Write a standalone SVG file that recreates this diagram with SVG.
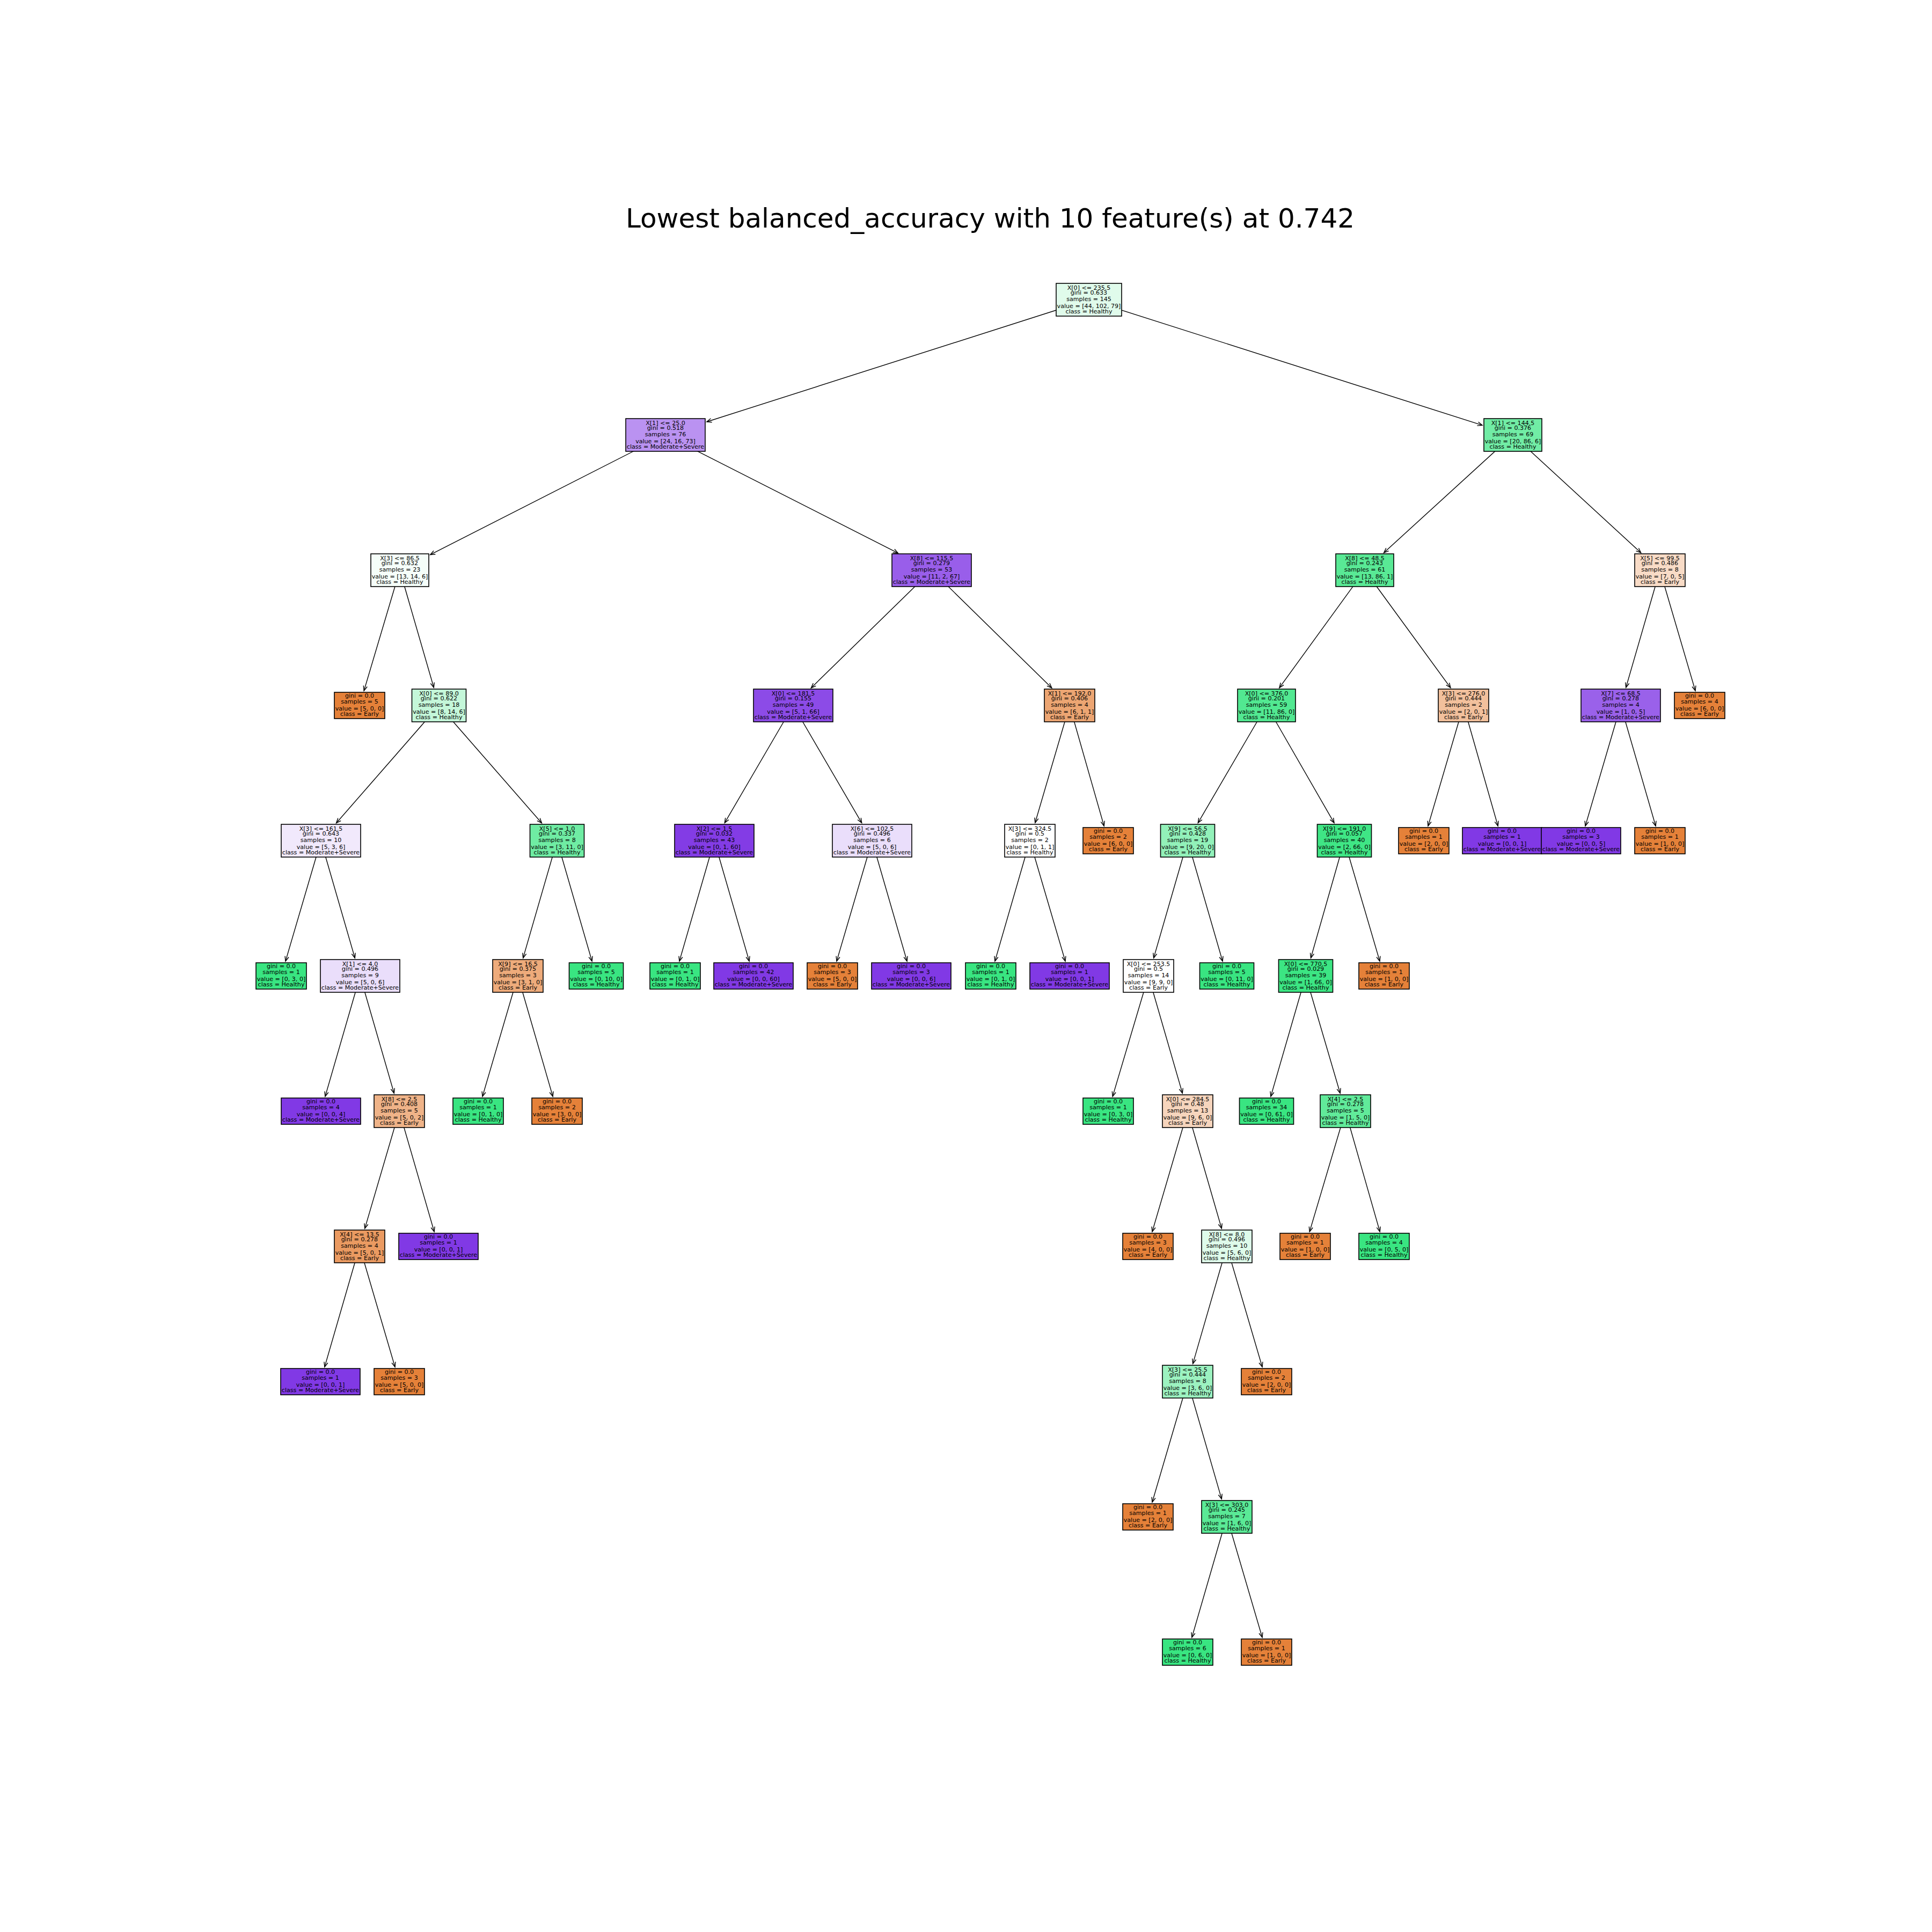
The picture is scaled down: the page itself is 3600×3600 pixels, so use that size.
<svg xmlns="http://www.w3.org/2000/svg" width="3600" height="3600" viewBox="0 0 3600 3600">
<style>
  .bg { fill: #ffffff; }
  .title { font-family: "DejaVu Sans", "Liberation Sans", sans-serif; font-size: 50px; fill: #000; text-anchor: middle; }
  .box { stroke: #000; stroke-width: 1.6; }
  .early { fill: #e58139; }
  .healthy { fill: #39e581; }
  .ms { fill: #8139e5; }
  .t { font-family: "DejaVu Sans", "Liberation Sans", sans-serif; font-size: 11.1px; fill: #000; text-anchor: middle; }
  .edge { stroke: #000; stroke-width: 1.4; fill: none; marker-end: url(#ah); }
</style>
<defs>
  <marker id="ah" markerUnits="userSpaceOnUse" markerWidth="12" markerHeight="10" viewBox="-10 -5 12 10" refX="0" refY="0" orient="auto">
    <path d="M-9,-3.6 L0,0 L-9,3.6" fill="none" stroke="#000" stroke-width="1.4"/>
  </marker>
</defs>
<rect class="bg" x="0" y="0" width="3600" height="3600"/>
<text class="title" x="1845" y="424">Lowest balanced_accuracy with 10 feature(s) at 0.742</text>

<g id="connectors">
  <line class="edge" x1="2029" y1="558.5" x2="1316.9" y2="786.0"/>
  <line class="edge" x1="2029" y1="558.5" x2="2762.1" y2="792.4"/>
  <line class="edge" x1="1240" y1="810.5" x2="801.7" y2="1033.6"/>
  <line class="edge" x1="1240" y1="810.5" x2="1673.3" y2="1030.6"/>
  <line class="edge" x1="745" y1="1062.5" x2="678.2" y2="1287.1"/>
  <line class="edge" x1="745" y1="1062.5" x2="808.3" y2="1281.1"/>
  <line class="edge" x1="818" y1="1314.5" x2="626.6" y2="1533.7"/>
  <line class="edge" x1="818" y1="1314.5" x2="1009.4" y2="1533.7"/>
  <line class="edge" x1="598" y1="1566.5" x2="532.0" y2="1791.1"/>
  <line class="edge" x1="598" y1="1566.5" x2="661.3" y2="1785.1"/>
  <line class="edge" x1="671" y1="1818.5" x2="605.9" y2="2043.1"/>
  <line class="edge" x1="671" y1="1818.5" x2="734.3" y2="2037.1"/>
  <line class="edge" x1="744" y1="2070.5" x2="679.8" y2="2289.1"/>
  <line class="edge" x1="744" y1="2070.5" x2="809.1" y2="2295.1"/>
  <line class="edge" x1="670" y1="2322.5" x2="604.9" y2="2547.1"/>
  <line class="edge" x1="670" y1="2322.5" x2="736.0" y2="2547.1"/>
  <line class="edge" x1="1038" y1="1566.5" x2="974.7" y2="1785.1"/>
  <line class="edge" x1="1038" y1="1566.5" x2="1103.1" y2="1791.1"/>
  <line class="edge" x1="965" y1="1818.5" x2="899.0" y2="2043.1"/>
  <line class="edge" x1="965" y1="1818.5" x2="1030.1" y2="2043.1"/>
  <line class="edge" x1="1736" y1="1062.5" x2="1511.4" y2="1281.9"/>
  <line class="edge" x1="1736" y1="1062.5" x2="1959.8" y2="1281.9"/>
  <line class="edge" x1="1478" y1="1314.5" x2="1350.3" y2="1533.4"/>
  <line class="edge" x1="1478" y1="1314.5" x2="1605.7" y2="1533.4"/>
  <line class="edge" x1="1331" y1="1566.5" x2="1265.9" y2="1791.1"/>
  <line class="edge" x1="1331" y1="1566.5" x2="1396.1" y2="1791.1"/>
  <line class="edge" x1="1625" y1="1566.5" x2="1559.0" y2="1791.1"/>
  <line class="edge" x1="1625" y1="1566.5" x2="1690.1" y2="1791.1"/>
  <line class="edge" x1="1993" y1="1314.5" x2="1928.8" y2="1533.1"/>
  <line class="edge" x1="1993" y1="1314.5" x2="2057.2" y2="1539.1"/>
  <line class="edge" x1="1919" y1="1566.5" x2="1853.9" y2="1791.1"/>
  <line class="edge" x1="1919" y1="1566.5" x2="1985.0" y2="1791.1"/>
  <line class="edge" x1="2819" y1="810.5" x2="2578.6" y2="1030.0"/>
  <line class="edge" x1="2819" y1="810.5" x2="3057.6" y2="1030.0"/>
  <line class="edge" x1="2543" y1="1062.5" x2="2383.9" y2="1281.6"/>
  <line class="edge" x1="2543" y1="1062.5" x2="2702.9" y2="1281.6"/>
  <line class="edge" x1="2360" y1="1314.5" x2="2232.3" y2="1533.4"/>
  <line class="edge" x1="2360" y1="1314.5" x2="2486.0" y2="1533.4"/>
  <line class="edge" x1="2213" y1="1566.5" x2="2149.7" y2="1785.1"/>
  <line class="edge" x1="2213" y1="1566.5" x2="2278.1" y2="1791.1"/>
  <line class="edge" x1="2140" y1="1818.5" x2="2073.2" y2="2043.1"/>
  <line class="edge" x1="2140" y1="1818.5" x2="2203.3" y2="2037.1"/>
  <line class="edge" x1="2213" y1="2070.5" x2="2147.0" y2="2295.1"/>
  <line class="edge" x1="2213" y1="2070.5" x2="2276.3" y2="2289.1"/>
  <line class="edge" x1="2286" y1="2322.5" x2="2222.7" y2="2541.1"/>
  <line class="edge" x1="2286" y1="2322.5" x2="2352.0" y2="2547.1"/>
  <line class="edge" x1="2213" y1="2574.5" x2="2147.0" y2="2799.1"/>
  <line class="edge" x1="2213" y1="2574.5" x2="2276.3" y2="2793.1"/>
  <line class="edge" x1="2286" y1="2826.5" x2="2220.9" y2="3051.1"/>
  <line class="edge" x1="2286" y1="2826.5" x2="2352.0" y2="3051.1"/>
  <line class="edge" x1="2505" y1="1566.5" x2="2442.5" y2="1785.1"/>
  <line class="edge" x1="2505" y1="1566.5" x2="2571.0" y2="1791.1"/>
  <line class="edge" x1="2433" y1="1818.5" x2="2367.9" y2="2043.1"/>
  <line class="edge" x1="2433" y1="1818.5" x2="2497.2" y2="2037.1"/>
  <line class="edge" x1="2507" y1="2070.5" x2="2440.2" y2="2295.1"/>
  <line class="edge" x1="2507" y1="2070.5" x2="2571.2" y2="2295.1"/>
  <line class="edge" x1="2727" y1="1314.5" x2="2661.0" y2="1539.1"/>
  <line class="edge" x1="2727" y1="1314.5" x2="2791.2" y2="1539.1"/>
  <line class="edge" x1="3093" y1="1062.5" x2="3029.7" y2="1281.1"/>
  <line class="edge" x1="3093" y1="1062.5" x2="3159.0" y2="1287.1"/>
  <line class="edge" x1="3020" y1="1314.5" x2="2954.0" y2="1539.1"/>
  <line class="edge" x1="3020" y1="1314.5" x2="3085.1" y2="1539.1"/>
</g>

<!-- split nodes: 61 px tall, five lines; leaves: 49 px tall, four lines -->
<g id="n0" transform="translate(2029,528)"><rect class="box" x="-61" y="0" width="122" height="61" fill="#e0fbeb"/><text class="t"><tspan x="0" y="11.7">X[0] &lt;= 235.5</tspan><tspan x="0" y="21.3">gini = 0.633</tspan><tspan x="0" y="33">samples = 145</tspan><tspan x="0" y="46">value = [44, 102, 79]</tspan><tspan x="0" y="56">class = Healthy</tspan></text></g>
<g id="n1" transform="translate(1240,780)"><rect class="box" x="-74" y="0" width="148" height="61" fill="#ba92f1"/><text class="t"><tspan x="0" y="11.7">X[1] &lt;= 25.0</tspan><tspan x="0" y="21.3">gini = 0.518</tspan><tspan x="0" y="33">samples = 76</tspan><tspan x="0" y="46">value = [24, 16, 73]</tspan><tspan x="0" y="56">class = Moderate+Severe</tspan></text></g>
<g id="n2" transform="translate(745,1032)"><rect class="box" x="-54" y="0" width="108" height="61" fill="#f5fef9"/><text class="t"><tspan x="0" y="11.7">X[3] &lt;= 86.5</tspan><tspan x="0" y="21.3">gini = 0.632</tspan><tspan x="0" y="33">samples = 23</tspan><tspan x="0" y="46">value = [13, 14, 6]</tspan><tspan x="0" y="56">class = Healthy</tspan></text></g>
<g id="n3" transform="translate(670,1290)"><rect class="box early" x="-47" y="0" width="94" height="49"/><text class="t"><tspan x="0" y="9.8">gini = 0.0</tspan><tspan x="0" y="21">samples = 5</tspan><tspan x="0" y="33.8">value = [5, 0, 0]</tspan><tspan x="0" y="43.8">class = Early</tspan></text></g>
<g id="n4" transform="translate(818,1284)"><rect class="box" x="-50.5" y="0" width="101" height="61" fill="#c4f7d9"/><text class="t"><tspan x="0" y="11.7">X[0] &lt;= 89.0</tspan><tspan x="0" y="21.3">gini = 0.622</tspan><tspan x="0" y="33">samples = 18</tspan><tspan x="0" y="46">value = [8, 14, 6]</tspan><tspan x="0" y="56">class = Healthy</tspan></text></g>
<g id="n5" transform="translate(598,1536)"><rect class="box" x="-74" y="0" width="148" height="61" fill="#f1e9fc"/><text class="t"><tspan x="0" y="11.7">X[3] &lt;= 161.5</tspan><tspan x="0" y="21.3">gini = 0.643</tspan><tspan x="0" y="33">samples = 10</tspan><tspan x="0" y="46">value = [5, 3, 6]</tspan><tspan x="0" y="56">class = Moderate+Severe</tspan></text></g>
<g id="n6" transform="translate(524,1794)"><rect class="box healthy" x="-47" y="0" width="94" height="49"/><text class="t"><tspan x="0" y="9.8">gini = 0.0</tspan><tspan x="0" y="21">samples = 1</tspan><tspan x="0" y="33.8">value = [0, 3, 0]</tspan><tspan x="0" y="43.8">class = Healthy</tspan></text></g>
<g id="n7" transform="translate(671,1788)"><rect class="box" x="-74" y="0" width="148" height="61" fill="#eadefb"/><text class="t"><tspan x="0" y="11.7">X[1] &lt;= 4.0</tspan><tspan x="0" y="21.3">gini = 0.496</tspan><tspan x="0" y="33">samples = 9</tspan><tspan x="0" y="46">value = [5, 0, 6]</tspan><tspan x="0" y="56">class = Moderate+Severe</tspan></text></g>
<g id="n8" transform="translate(598,2046)"><rect class="box ms" x="-74" y="0" width="148" height="49"/><text class="t"><tspan x="0" y="9.8">gini = 0.0</tspan><tspan x="0" y="21">samples = 4</tspan><tspan x="0" y="33.8">value = [0, 0, 4]</tspan><tspan x="0" y="43.8">class = Moderate+Severe</tspan></text></g>
<g id="n9" transform="translate(744,2040)"><rect class="box" x="-47" y="0" width="94" height="61" fill="#efb388"/><text class="t"><tspan x="0" y="11.7">X[8] &lt;= 2.5</tspan><tspan x="0" y="21.3">gini = 0.408</tspan><tspan x="0" y="33">samples = 5</tspan><tspan x="0" y="46">value = [5, 0, 2]</tspan><tspan x="0" y="56">class = Early</tspan></text></g>
<g id="n10" transform="translate(670,2292)"><rect class="box" x="-47" y="0" width="94" height="61" fill="#ea9a61"/><text class="t"><tspan x="0" y="11.7">X[4] &lt;= 13.5</tspan><tspan x="0" y="21.3">gini = 0.278</tspan><tspan x="0" y="33">samples = 4</tspan><tspan x="0" y="46">value = [5, 0, 1]</tspan><tspan x="0" y="56">class = Early</tspan></text></g>
<g id="n11" transform="translate(597,2550)"><rect class="box ms" x="-74" y="0" width="148" height="49"/><text class="t"><tspan x="0" y="9.8">gini = 0.0</tspan><tspan x="0" y="21">samples = 1</tspan><tspan x="0" y="33.8">value = [0, 0, 1]</tspan><tspan x="0" y="43.8">class = Moderate+Severe</tspan></text></g>
<g id="n12" transform="translate(744,2550)"><rect class="box early" x="-47" y="0" width="94" height="49"/><text class="t"><tspan x="0" y="9.8">gini = 0.0</tspan><tspan x="0" y="21">samples = 3</tspan><tspan x="0" y="33.8">value = [5, 0, 0]</tspan><tspan x="0" y="43.8">class = Early</tspan></text></g>
<g id="n13" transform="translate(817,2298)"><rect class="box ms" x="-74" y="0" width="148" height="49"/><text class="t"><tspan x="0" y="9.8">gini = 0.0</tspan><tspan x="0" y="21">samples = 1</tspan><tspan x="0" y="33.8">value = [0, 0, 1]</tspan><tspan x="0" y="43.8">class = Moderate+Severe</tspan></text></g>
<g id="n14" transform="translate(1038,1536)"><rect class="box" x="-50.5" y="0" width="101" height="61" fill="#6feca3"/><text class="t"><tspan x="0" y="11.7">X[5] &lt;= 1.0</tspan><tspan x="0" y="21.3">gini = 0.337</tspan><tspan x="0" y="33">samples = 8</tspan><tspan x="0" y="46">value = [3, 11, 0]</tspan><tspan x="0" y="56">class = Healthy</tspan></text></g>
<g id="n15" transform="translate(965,1788)"><rect class="box" x="-47" y="0" width="94" height="61" fill="#eeab7b"/><text class="t"><tspan x="0" y="11.7">X[9] &lt;= 16.5</tspan><tspan x="0" y="21.3">gini = 0.375</tspan><tspan x="0" y="33">samples = 3</tspan><tspan x="0" y="46">value = [3, 1, 0]</tspan><tspan x="0" y="56">class = Early</tspan></text></g>
<g id="n16" transform="translate(891,2046)"><rect class="box healthy" x="-47" y="0" width="94" height="49"/><text class="t"><tspan x="0" y="9.8">gini = 0.0</tspan><tspan x="0" y="21">samples = 1</tspan><tspan x="0" y="33.8">value = [0, 1, 0]</tspan><tspan x="0" y="43.8">class = Healthy</tspan></text></g>
<g id="n17" transform="translate(1038,2046)"><rect class="box early" x="-47" y="0" width="94" height="49"/><text class="t"><tspan x="0" y="9.8">gini = 0.0</tspan><tspan x="0" y="21">samples = 2</tspan><tspan x="0" y="33.8">value = [3, 0, 0]</tspan><tspan x="0" y="43.8">class = Early</tspan></text></g>
<g id="n18" transform="translate(1111,1794)"><rect class="box healthy" x="-50.5" y="0" width="101" height="49"/><text class="t"><tspan x="0" y="9.8">gini = 0.0</tspan><tspan x="0" y="21">samples = 5</tspan><tspan x="0" y="33.8">value = [0, 10, 0]</tspan><tspan x="0" y="43.8">class = Healthy</tspan></text></g>
<g id="n19" transform="translate(1736,1032)"><rect class="box" x="-74" y="0" width="148" height="61" fill="#995eea"/><text class="t"><tspan x="0" y="11.7">X[8] &lt;= 115.5</tspan><tspan x="0" y="21.3">gini = 0.279</tspan><tspan x="0" y="33">samples = 53</tspan><tspan x="0" y="46">value = [11, 2, 67]</tspan><tspan x="0" y="56">class = Moderate+Severe</tspan></text></g>
<g id="n20" transform="translate(1478,1284)"><rect class="box" x="-74" y="0" width="148" height="61" fill="#8c4be7"/><text class="t"><tspan x="0" y="11.7">X[0] &lt;= 181.5</tspan><tspan x="0" y="21.3">gini = 0.155</tspan><tspan x="0" y="33">samples = 49</tspan><tspan x="0" y="46">value = [5, 1, 66]</tspan><tspan x="0" y="56">class = Moderate+Severe</tspan></text></g>
<g id="n21" transform="translate(1331,1536)"><rect class="box" x="-74" y="0" width="148" height="61" fill="#833ce5"/><text class="t"><tspan x="0" y="11.7">X[2] &lt;= 1.5</tspan><tspan x="0" y="21.3">gini = 0.032</tspan><tspan x="0" y="33">samples = 43</tspan><tspan x="0" y="46">value = [0, 1, 60]</tspan><tspan x="0" y="56">class = Moderate+Severe</tspan></text></g>
<g id="n22" transform="translate(1258,1794)"><rect class="box healthy" x="-47" y="0" width="94" height="49"/><text class="t"><tspan x="0" y="9.8">gini = 0.0</tspan><tspan x="0" y="21">samples = 1</tspan><tspan x="0" y="33.8">value = [0, 1, 0]</tspan><tspan x="0" y="43.8">class = Healthy</tspan></text></g>
<g id="n23" transform="translate(1404,1794)"><rect class="box ms" x="-74" y="0" width="148" height="49"/><text class="t"><tspan x="0" y="9.8">gini = 0.0</tspan><tspan x="0" y="21">samples = 42</tspan><tspan x="0" y="33.8">value = [0, 0, 60]</tspan><tspan x="0" y="43.8">class = Moderate+Severe</tspan></text></g>
<g id="n24" transform="translate(1625,1536)"><rect class="box" x="-74" y="0" width="148" height="61" fill="#eadefb"/><text class="t"><tspan x="0" y="11.7">X[6] &lt;= 102.5</tspan><tspan x="0" y="21.3">gini = 0.496</tspan><tspan x="0" y="33">samples = 6</tspan><tspan x="0" y="46">value = [5, 0, 6]</tspan><tspan x="0" y="56">class = Moderate+Severe</tspan></text></g>
<g id="n25" transform="translate(1551,1794)"><rect class="box early" x="-47" y="0" width="94" height="49"/><text class="t"><tspan x="0" y="9.8">gini = 0.0</tspan><tspan x="0" y="21">samples = 3</tspan><tspan x="0" y="33.8">value = [5, 0, 0]</tspan><tspan x="0" y="43.8">class = Early</tspan></text></g>
<g id="n26" transform="translate(1698,1794)"><rect class="box ms" x="-74" y="0" width="148" height="49"/><text class="t"><tspan x="0" y="9.8">gini = 0.0</tspan><tspan x="0" y="21">samples = 3</tspan><tspan x="0" y="33.8">value = [0, 0, 6]</tspan><tspan x="0" y="43.8">class = Moderate+Severe</tspan></text></g>
<g id="n27" transform="translate(1993,1284)"><rect class="box" x="-47" y="0" width="94" height="61" fill="#eca572"/><text class="t"><tspan x="0" y="11.7">X[1] &lt;= 192.0</tspan><tspan x="0" y="21.3">gini = 0.406</tspan><tspan x="0" y="33">samples = 4</tspan><tspan x="0" y="46">value = [6, 1, 1]</tspan><tspan x="0" y="56">class = Early</tspan></text></g>
<g id="n28" transform="translate(1919,1536)"><rect class="box" x="-47" y="0" width="94" height="61" fill="#ffffff"/><text class="t"><tspan x="0" y="11.7">X[3] &lt;= 324.5</tspan><tspan x="0" y="21.3">gini = 0.5</tspan><tspan x="0" y="33">samples = 2</tspan><tspan x="0" y="46">value = [0, 1, 1]</tspan><tspan x="0" y="56">class = Healthy</tspan></text></g>
<g id="n29" transform="translate(1846,1794)"><rect class="box healthy" x="-47" y="0" width="94" height="49"/><text class="t"><tspan x="0" y="9.8">gini = 0.0</tspan><tspan x="0" y="21">samples = 1</tspan><tspan x="0" y="33.8">value = [0, 1, 0]</tspan><tspan x="0" y="43.8">class = Healthy</tspan></text></g>
<g id="n30" transform="translate(1993,1794)"><rect class="box ms" x="-74" y="0" width="148" height="49"/><text class="t"><tspan x="0" y="9.8">gini = 0.0</tspan><tspan x="0" y="21">samples = 1</tspan><tspan x="0" y="33.8">value = [0, 0, 1]</tspan><tspan x="0" y="43.8">class = Moderate+Severe</tspan></text></g>
<g id="n31" transform="translate(2065,1542)"><rect class="box early" x="-47" y="0" width="94" height="49"/><text class="t"><tspan x="0" y="9.8">gini = 0.0</tspan><tspan x="0" y="21">samples = 2</tspan><tspan x="0" y="33.8">value = [6, 0, 0]</tspan><tspan x="0" y="43.8">class = Early</tspan></text></g>
<g id="n32" transform="translate(2819,780)"><rect class="box" x="-54" y="0" width="108" height="61" fill="#71eca5"/><text class="t"><tspan x="0" y="11.7">X[1] &lt;= 144.5</tspan><tspan x="0" y="21.3">gini = 0.376</tspan><tspan x="0" y="33">samples = 69</tspan><tspan x="0" y="46">value = [20, 86, 6]</tspan><tspan x="0" y="56">class = Healthy</tspan></text></g>
<g id="n33" transform="translate(2543,1032)"><rect class="box" x="-54" y="0" width="108" height="61" fill="#59e995"/><text class="t"><tspan x="0" y="11.7">X[8] &lt;= 48.5</tspan><tspan x="0" y="21.3">gini = 0.243</tspan><tspan x="0" y="33">samples = 61</tspan><tspan x="0" y="46">value = [13, 86, 1]</tspan><tspan x="0" y="56">class = Healthy</tspan></text></g>
<g id="n34" transform="translate(2360,1284)"><rect class="box" x="-54" y="0" width="108" height="61" fill="#52e891"/><text class="t"><tspan x="0" y="11.7">X[0] &lt;= 376.0</tspan><tspan x="0" y="21.3">gini = 0.201</tspan><tspan x="0" y="33">samples = 59</tspan><tspan x="0" y="46">value = [11, 86, 0]</tspan><tspan x="0" y="56">class = Healthy</tspan></text></g>
<g id="n35" transform="translate(2213,1536)"><rect class="box" x="-50.5" y="0" width="101" height="61" fill="#92f1b9"/><text class="t"><tspan x="0" y="11.7">X[9] &lt;= 56.5</tspan><tspan x="0" y="21.3">gini = 0.428</tspan><tspan x="0" y="33">samples = 19</tspan><tspan x="0" y="46">value = [9, 20, 0]</tspan><tspan x="0" y="56">class = Healthy</tspan></text></g>
<g id="n36" transform="translate(2140,1788)"><rect class="box" x="-47" y="0" width="94" height="61" fill="#ffffff"/><text class="t"><tspan x="0" y="11.7">X[0] &lt;= 253.5</tspan><tspan x="0" y="21.3">gini = 0.5</tspan><tspan x="0" y="33">samples = 14</tspan><tspan x="0" y="46">value = [9, 9, 0]</tspan><tspan x="0" y="56">class = Early</tspan></text></g>
<g id="n37" transform="translate(2065,2046)"><rect class="box healthy" x="-47" y="0" width="94" height="49"/><text class="t"><tspan x="0" y="9.8">gini = 0.0</tspan><tspan x="0" y="21">samples = 1</tspan><tspan x="0" y="33.8">value = [0, 3, 0]</tspan><tspan x="0" y="43.8">class = Healthy</tspan></text></g>
<g id="n38" transform="translate(2213,2040)"><rect class="box" x="-47" y="0" width="94" height="61" fill="#f6d5bd"/><text class="t"><tspan x="0" y="11.7">X[0] &lt;= 284.5</tspan><tspan x="0" y="21.3">gini = 0.48</tspan><tspan x="0" y="33">samples = 13</tspan><tspan x="0" y="46">value = [9, 6, 0]</tspan><tspan x="0" y="56">class = Early</tspan></text></g>
<g id="n39" transform="translate(2139,2298)"><rect class="box early" x="-47" y="0" width="94" height="49"/><text class="t"><tspan x="0" y="9.8">gini = 0.0</tspan><tspan x="0" y="21">samples = 3</tspan><tspan x="0" y="33.8">value = [4, 0, 0]</tspan><tspan x="0" y="43.8">class = Early</tspan></text></g>
<g id="n40" transform="translate(2286,2292)"><rect class="box" x="-47" y="0" width="94" height="61" fill="#defbea"/><text class="t"><tspan x="0" y="11.7">X[8] &lt;= 8.0</tspan><tspan x="0" y="21.3">gini = 0.496</tspan><tspan x="0" y="33">samples = 10</tspan><tspan x="0" y="46">value = [5, 6, 0]</tspan><tspan x="0" y="56">class = Healthy</tspan></text></g>
<g id="n41" transform="translate(2213,2544)"><rect class="box" x="-47" y="0" width="94" height="61" fill="#9cf2c0"/><text class="t"><tspan x="0" y="11.7">X[3] &lt;= 25.5</tspan><tspan x="0" y="21.3">gini = 0.444</tspan><tspan x="0" y="33">samples = 8</tspan><tspan x="0" y="46">value = [3, 6, 0]</tspan><tspan x="0" y="56">class = Healthy</tspan></text></g>
<g id="n42" transform="translate(2139,2802)"><rect class="box early" x="-47" y="0" width="94" height="49"/><text class="t"><tspan x="0" y="9.8">gini = 0.0</tspan><tspan x="0" y="21">samples = 1</tspan><tspan x="0" y="33.8">value = [2, 0, 0]</tspan><tspan x="0" y="43.8">class = Early</tspan></text></g>
<g id="n43" transform="translate(2286,2796)"><rect class="box" x="-47" y="0" width="94" height="61" fill="#5ae996"/><text class="t"><tspan x="0" y="11.7">X[3] &lt;= 303.0</tspan><tspan x="0" y="21.3">gini = 0.245</tspan><tspan x="0" y="33">samples = 7</tspan><tspan x="0" y="46">value = [1, 6, 0]</tspan><tspan x="0" y="56">class = Healthy</tspan></text></g>
<g id="n44" transform="translate(2213,3054)"><rect class="box healthy" x="-47" y="0" width="94" height="49"/><text class="t"><tspan x="0" y="9.8">gini = 0.0</tspan><tspan x="0" y="21">samples = 6</tspan><tspan x="0" y="33.8">value = [0, 6, 0]</tspan><tspan x="0" y="43.8">class = Healthy</tspan></text></g>
<g id="n45" transform="translate(2360,3054)"><rect class="box early" x="-47" y="0" width="94" height="49"/><text class="t"><tspan x="0" y="9.8">gini = 0.0</tspan><tspan x="0" y="21">samples = 1</tspan><tspan x="0" y="33.8">value = [1, 0, 0]</tspan><tspan x="0" y="43.8">class = Early</tspan></text></g>
<g id="n46" transform="translate(2360,2550)"><rect class="box early" x="-47" y="0" width="94" height="49"/><text class="t"><tspan x="0" y="9.8">gini = 0.0</tspan><tspan x="0" y="21">samples = 2</tspan><tspan x="0" y="33.8">value = [2, 0, 0]</tspan><tspan x="0" y="43.8">class = Early</tspan></text></g>
<g id="n47" transform="translate(2286,1794)"><rect class="box healthy" x="-50.5" y="0" width="101" height="49"/><text class="t"><tspan x="0" y="9.8">gini = 0.0</tspan><tspan x="0" y="21">samples = 5</tspan><tspan x="0" y="33.8">value = [0, 11, 0]</tspan><tspan x="0" y="43.8">class = Healthy</tspan></text></g>
<g id="n48" transform="translate(2505,1536)"><rect class="box" x="-50.5" y="0" width="101" height="61" fill="#3fe685"/><text class="t"><tspan x="0" y="11.7">X[9] &lt;= 191.0</tspan><tspan x="0" y="21.3">gini = 0.057</tspan><tspan x="0" y="33">samples = 40</tspan><tspan x="0" y="46">value = [2, 66, 0]</tspan><tspan x="0" y="56">class = Healthy</tspan></text></g>
<g id="n49" transform="translate(2433,1788)"><rect class="box" x="-50.5" y="0" width="101" height="61" fill="#3ce583"/><text class="t"><tspan x="0" y="11.7">X[0] &lt;= 770.5</tspan><tspan x="0" y="21.3">gini = 0.029</tspan><tspan x="0" y="33">samples = 39</tspan><tspan x="0" y="46">value = [1, 66, 0]</tspan><tspan x="0" y="56">class = Healthy</tspan></text></g>
<g id="n50" transform="translate(2360,2046)"><rect class="box healthy" x="-50.5" y="0" width="101" height="49"/><text class="t"><tspan x="0" y="9.8">gini = 0.0</tspan><tspan x="0" y="21">samples = 34</tspan><tspan x="0" y="33.8">value = [0, 61, 0]</tspan><tspan x="0" y="43.8">class = Healthy</tspan></text></g>
<g id="n51" transform="translate(2507,2040)"><rect class="box" x="-47" y="0" width="94" height="61" fill="#61ea9a"/><text class="t"><tspan x="0" y="11.7">X[4] &lt;= 2.5</tspan><tspan x="0" y="21.3">gini = 0.278</tspan><tspan x="0" y="33">samples = 5</tspan><tspan x="0" y="46">value = [1, 5, 0]</tspan><tspan x="0" y="56">class = Healthy</tspan></text></g>
<g id="n52" transform="translate(2432,2298)"><rect class="box early" x="-47" y="0" width="94" height="49"/><text class="t"><tspan x="0" y="9.8">gini = 0.0</tspan><tspan x="0" y="21">samples = 1</tspan><tspan x="0" y="33.8">value = [1, 0, 0]</tspan><tspan x="0" y="43.8">class = Early</tspan></text></g>
<g id="n53" transform="translate(2579,2298)"><rect class="box healthy" x="-47" y="0" width="94" height="49"/><text class="t"><tspan x="0" y="9.8">gini = 0.0</tspan><tspan x="0" y="21">samples = 4</tspan><tspan x="0" y="33.8">value = [0, 5, 0]</tspan><tspan x="0" y="43.8">class = Healthy</tspan></text></g>
<g id="n54" transform="translate(2579,1794)"><rect class="box early" x="-47" y="0" width="94" height="49"/><text class="t"><tspan x="0" y="9.8">gini = 0.0</tspan><tspan x="0" y="21">samples = 1</tspan><tspan x="0" y="33.8">value = [1, 0, 0]</tspan><tspan x="0" y="43.8">class = Early</tspan></text></g>
<g id="n55" transform="translate(2727,1284)"><rect class="box" x="-47" y="0" width="94" height="61" fill="#f2c09c"/><text class="t"><tspan x="0" y="11.7">X[3] &lt;= 276.0</tspan><tspan x="0" y="21.3">gini = 0.444</tspan><tspan x="0" y="33">samples = 2</tspan><tspan x="0" y="46">value = [2, 0, 1]</tspan><tspan x="0" y="56">class = Early</tspan></text></g>
<g id="n56" transform="translate(2653,1542)"><rect class="box early" x="-47" y="0" width="94" height="49"/><text class="t"><tspan x="0" y="9.8">gini = 0.0</tspan><tspan x="0" y="21">samples = 1</tspan><tspan x="0" y="33.8">value = [2, 0, 0]</tspan><tspan x="0" y="43.8">class = Early</tspan></text></g>
<g id="n57" transform="translate(2799,1542)"><rect class="box ms" x="-74" y="0" width="148" height="49"/><text class="t"><tspan x="0" y="9.8">gini = 0.0</tspan><tspan x="0" y="21">samples = 1</tspan><tspan x="0" y="33.8">value = [0, 0, 1]</tspan><tspan x="0" y="43.8">class = Moderate+Severe</tspan></text></g>
<g id="n58" transform="translate(3093,1032)"><rect class="box" x="-47" y="0" width="94" height="61" fill="#f8dbc6"/><text class="t"><tspan x="0" y="11.7">X[5] &lt;= 99.5</tspan><tspan x="0" y="21.3">gini = 0.486</tspan><tspan x="0" y="33">samples = 8</tspan><tspan x="0" y="46">value = [7, 0, 5]</tspan><tspan x="0" y="56">class = Early</tspan></text></g>
<g id="n59" transform="translate(3020,1284)"><rect class="box" x="-74" y="0" width="148" height="61" fill="#9a61ea"/><text class="t"><tspan x="0" y="11.7">X[7] &lt;= 68.5</tspan><tspan x="0" y="21.3">gini = 0.278</tspan><tspan x="0" y="33">samples = 4</tspan><tspan x="0" y="46">value = [1, 0, 5]</tspan><tspan x="0" y="56">class = Moderate+Severe</tspan></text></g>
<g id="n60" transform="translate(2946,1542)"><rect class="box ms" x="-74" y="0" width="148" height="49"/><text class="t"><tspan x="0" y="9.8">gini = 0.0</tspan><tspan x="0" y="21">samples = 3</tspan><tspan x="0" y="33.8">value = [0, 0, 5]</tspan><tspan x="0" y="43.8">class = Moderate+Severe</tspan></text></g>
<g id="n61" transform="translate(3093,1542)"><rect class="box early" x="-47" y="0" width="94" height="49"/><text class="t"><tspan x="0" y="9.8">gini = 0.0</tspan><tspan x="0" y="21">samples = 1</tspan><tspan x="0" y="33.8">value = [1, 0, 0]</tspan><tspan x="0" y="43.8">class = Early</tspan></text></g>
<g id="n62" transform="translate(3167,1290)"><rect class="box early" x="-47" y="0" width="94" height="49"/><text class="t"><tspan x="0" y="9.8">gini = 0.0</tspan><tspan x="0" y="21">samples = 4</tspan><tspan x="0" y="33.8">value = [6, 0, 0]</tspan><tspan x="0" y="43.8">class = Early</tspan></text></g>
</svg>
